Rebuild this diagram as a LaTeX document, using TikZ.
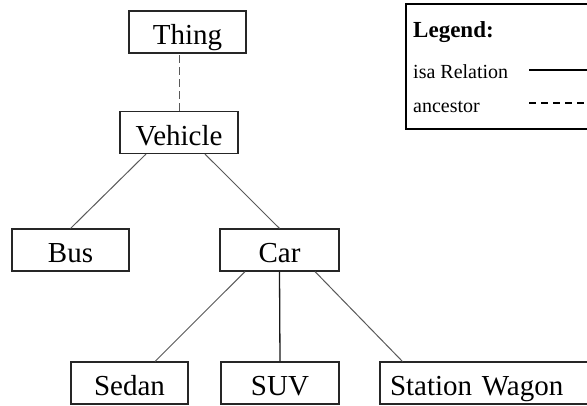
\documentclass[tikz,border=0pt]{standalone}
\usepackage{fontspec}
\setmainfont{Liberation Serif}
\begin{document}
\begin{tikzpicture}[x=1bp,y=-1bp,
  box/.style={draw=black!85, line width=1.1bp, fill=white, inner xsep=0pt,
    minimum height=42bp, text height=25bp, text depth=0pt,
    font=\fontsize{29bp}{34bp}\selectfont},
  isa/.style={draw=black!65, line width=1bp},
  isadark/.style={draw=black!90, line width=1.3bp},
  anc/.style={draw=black!65, line width=1bp, dash pattern=on 8bp off 4bp},
  legtext/.style={inner sep=0pt, anchor=base west,
    font=\fontsize{20bp}{24bp}\selectfont}
]
\useasboundingbox (0,0) rectangle (587,405);

% class hierarchy
\node[box, minimum width=117bp] (Thing)   at (187.5,32)  {Thing};
\node[box, minimum width=118bp] (Vehicle) at (179,132.5) {Vehicle};
\node[box, minimum width=117bp] (Bus)     at (70.5,250)  {Bus};
\node[box, minimum width=119bp] (Car)     at (279.5,250) {Car};
\node[box, minimum width=117bp] (Sedan)   at (129.5,383) {Sedan};
\node[box, minimum width=118bp] (SUV)     at (280,383)   {SUV};
\node[box, minimum width=220bp, text width=200bp, inner xsep=10bp, align=left]
      (Wagon) at (490,383) {Station Wagon};

% ancestor link
\draw[anc] (Vehicle.north) -- (Vehicle.north |- Thing.south);

% isa links
\draw[isa] ([xshift=-33bp]Vehicle.south) -- (Bus.north);
\draw[isa] ([xshift=26bp]Vehicle.south) -- (Car.north);
\draw[isa] ([xshift=-34.5bp]Car.south) -- ([xshift=25.5bp]Sedan.north);
\draw[isadark] (Car.south) -- (SUV.north);
\draw[isa] ([xshift=35.5bp]Car.south) -- ([xshift=23bp]Wagon.north west);

% legend
\node[draw=black, line width=1.8bp, anchor=north west, minimum width=200bp,
      minimum height=125bp, inner sep=0pt] (legend) at (405,3) {};
\node[legtext, font=\fontsize{23bp}{27bp}\selectfont\bfseries] (legtitle) at (413,37) {Legend:};
\node[legtext] (legisa) at (413,78) {isa Relation};
\node[legtext] (leganc) at (413,112) {ancestor};
\coordinate (isaA) at (529,70);
\coordinate (isaB) at (600,70);
\coordinate (ancA) at (529,103);
\coordinate (ancB) at (600,103);
\draw[draw=black, line width=1.1bp] (isaA) -- (isaB);
\draw[draw=black, line width=1.6bp, dash pattern=on 7bp off 5bp] (ancA) -- (ancB);
\end{tikzpicture}
\end{document}
